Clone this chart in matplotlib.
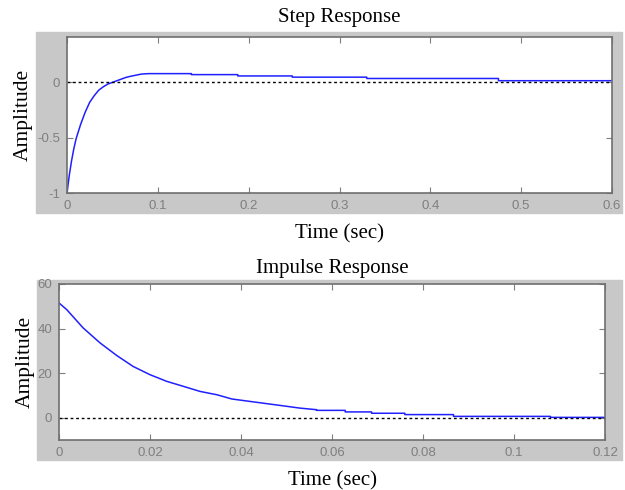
import numpy as np
import matplotlib
matplotlib.use("Agg")
import matplotlib.pyplot as plt
from matplotlib.patches import Rectangle

# step response (staircase at the tail)
step_t = [0, 0.0025, 0.005, 0.0075, 0.01, 0.015, 0.02, 0.025, 0.03, 0.035,
          0.04, 0.045, 0.05, 0.055, 0.06, 0.065, 0.07, 0.076, 0.082, 0.09,
          0.137, 0.137, 0.188, 0.188, 0.248, 0.248, 0.33, 0.33, 0.475, 0.475, 0.6]
step_y = [-1.0, -0.84, -0.71, -0.6, -0.51, -0.38, -0.27, -0.18, -0.12, -0.07,
          -0.04, -0.015, 0.0, 0.015, 0.03, 0.045, 0.055, 0.065, 0.075, 0.079,
          0.079, 0.07, 0.07, 0.058, 0.058, 0.047, 0.047, 0.035, 0.035, 0.015, 0.015]

# impulse response
imp_t = [0, 0.0017, 0.0053, 0.009, 0.0127, 0.0163, 0.02, 0.0237, 0.0273, 0.031,
         0.0347, 0.038, 0.042, 0.0457, 0.049, 0.053, 0.0566, 0.0566, 0.0629,
         0.0629, 0.0687, 0.0687, 0.076, 0.076, 0.0867, 0.0867, 0.108, 0.108, 0.12]
imp_y = [51.5, 48.5, 40.3, 33.6, 27.9, 23.0, 19.3, 16.3, 14.1, 11.8,
         10.3, 8.4, 7.3, 6.3, 5.4, 4.3, 3.6, 3.3, 3.3,
         2.6, 2.6, 2.0, 2.0, 1.4, 1.4, 0.6, 0.6, 0.15, 0.15]

W, H = 625, 490
fig = plt.figure(figsize=(W / 100, H / 100), dpi=100)

def px(l, t, r, b):
    return [l / W, 1 - b / H, (r - l) / W, (b - t) / H]

serif = "Liberation Serif"
grey = "#c8c8c8"
tickc = "#7f7f7f"

# grey frames behind the axes
for l, t, r, b in [(36, 32, 622, 213), (37, 280, 622, 460)]:
    fig.patches.append(Rectangle((l / W, 1 - b / H), (r - l) / W, (b - t) / H,
                                 transform=fig.transFigure, color=grey, zorder=-5))

def style(ax):
    ax.tick_params(direction="in", top=True, right=True, colors=tickc,
                   labelsize=9.5, length=4, width=0.8, pad=5)
    for lab in ax.get_xticklabels() + ax.get_yticklabels():
        lab.set_fontfamily("Liberation Sans")
    for s in ax.spines.values():
        s.set_color("#6f6f6f")
        s.set_linewidth(1.2)

ax1 = fig.add_axes(px(67, 37, 612, 193))
ax1.plot(step_t, step_y, color="#2020ff", lw=1.1)
ax1.axhline(0, color="black", ls=(0, (2, 2)), lw=1.0)
ax1.set_xlim(0, 0.6)
ax1.set_ylim(-1, 0.41)
ax1.set_xticks([0, 0.1, 0.2, 0.3, 0.4, 0.5, 0.6])
ax1.set_xticklabels(["0", "0.1", "0.2", "0.3", "0.4", "0.5", "0.6"])
ax1.set_yticks([-1, -0.5, 0])
ax1.set_yticklabels(["-1", "-0.5", "0"])
style(ax1)
ax1.set_title("Step Response", fontfamily=serif, fontsize=15, pad=11)
ax1.set_xlabel("Time (sec)", fontfamily=serif, fontsize=15, labelpad=9)
ax1.set_ylabel("Amplitude", fontfamily=serif, fontsize=15.5, labelpad=3)

ax2 = fig.add_axes(px(59, 284, 605, 440))
ax2.plot(imp_t, imp_y, color="#2020ff", lw=1.1)
ax2.axhline(0, color="black", ls=(0, (2, 2)), lw=1.0)
ax2.set_xlim(0, 0.12)
ax2.set_ylim(-10, 60)
ax2.set_xticks([0, 0.02, 0.04, 0.06, 0.08, 0.1, 0.12])
ax2.set_xticklabels(["0", "0.02", "0.04", "0.06", "0.08", "0.1", "0.12"])
ax2.set_yticks([0, 20, 40, 60])
style(ax2)
ax2.set_title("Impulse Response", fontfamily=serif, fontsize=15, pad=8)
ax2.set_xlabel("Time (sec)", fontfamily=serif, fontsize=15, labelpad=9)
ax2.set_ylabel("Amplitude", fontfamily=serif, fontsize=15.5, labelpad=2)

fig.savefig("out.png", dpi=100)
